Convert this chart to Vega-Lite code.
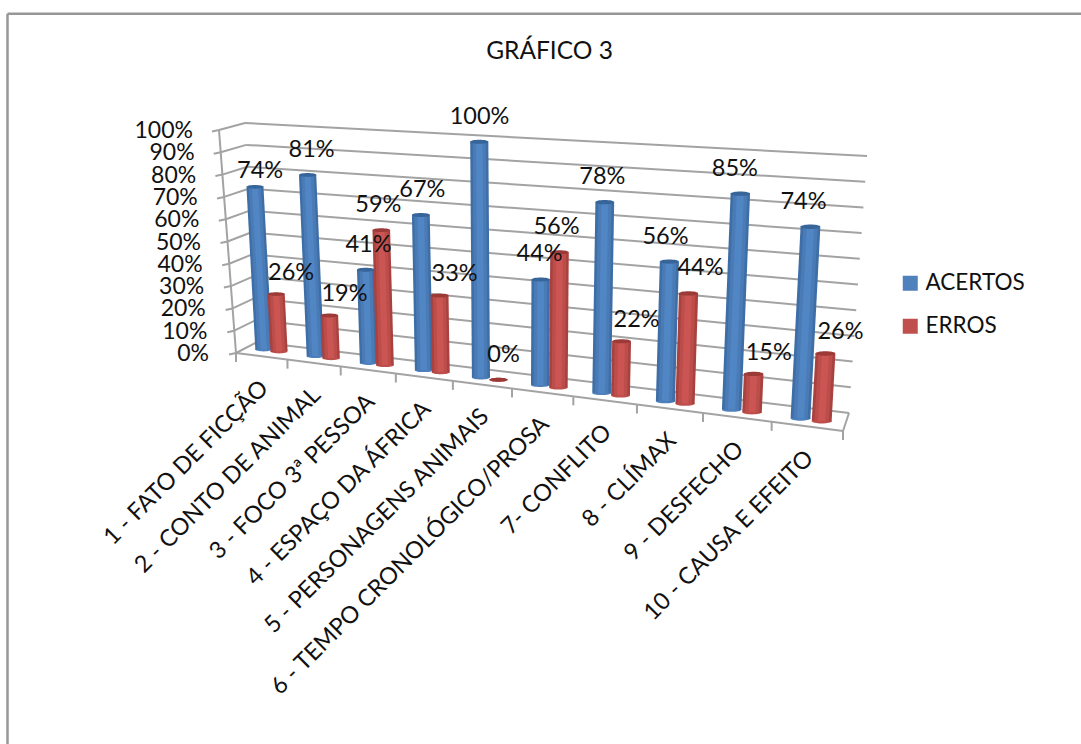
{
  "$schema": "https://vega.github.io/schema/vega-lite/v6.json",
  "width": 1081,
  "height": 744,
  "autosize": "none",
  "padding": 0,
  "background": "white",
  "config": {"view": {"stroke": null}, "font": "Lato"},
  "title": {"text": "GRÁFICO 3", "font": "Lato", "fontSize": 24.5, "fontWeight": "normal", "color": "#111111", "anchor": "middle", "dx": 9, "dy": 68},
  "datasets": {
    "resultados": [
      {"categoria": "1 - FATO  DE FICÇÃO", "serie": "ACERTOS", "valor": 74},
      {"categoria": "2 - CONTO DE ANIMAL", "serie": "ACERTOS", "valor": 81},
      {"categoria": "3 - FOCO 3ª PESSOA", "serie": "ACERTOS", "valor": 41},
      {"categoria": "4 - ESPAÇO DA ÁFRICA", "serie": "ACERTOS", "valor": 67},
      {"categoria": "5 - PERSONAGENS ANIMAIS", "serie": "ACERTOS", "valor": 100},
      {"categoria": "6 - TEMPO CRONOLÓGICO/PROSA", "serie": "ACERTOS", "valor": 44},
      {"categoria": "7- CONFLITO", "serie": "ACERTOS", "valor": 78},
      {"categoria": "8 - CLÍMAX", "serie": "ACERTOS", "valor": 56},
      {"categoria": "9 - DESFECHO", "serie": "ACERTOS", "valor": 85},
      {"categoria": "10 - CAUSA E EFEITO", "serie": "ACERTOS", "valor": 74},
      {"categoria": "1 - FATO  DE FICÇÃO", "serie": "ERROS", "valor": 26},
      {"categoria": "2 - CONTO DE ANIMAL", "serie": "ERROS", "valor": 19},
      {"categoria": "3 - FOCO 3ª PESSOA", "serie": "ERROS", "valor": 59},
      {"categoria": "4 - ESPAÇO DA ÁFRICA", "serie": "ERROS", "valor": 33},
      {"categoria": "5 - PERSONAGENS ANIMAIS", "serie": "ERROS", "valor": 0},
      {"categoria": "6 - TEMPO CRONOLÓGICO/PROSA", "serie": "ERROS", "valor": 56},
      {"categoria": "7- CONFLITO", "serie": "ERROS", "valor": 22},
      {"categoria": "8 - CLÍMAX", "serie": "ERROS", "valor": 44},
      {"categoria": "9 - DESFECHO", "serie": "ERROS", "valor": 15},
      {"categoria": "10 - CAUSA E EFEITO", "serie": "ERROS", "valor": 26}
    ],
    "niveis": [
      {"nivel": 0}, {"nivel": 10}, {"nivel": 20}, {"nivel": 30}, {"nivel": 40}, {"nivel": 50},
      {"nivel": 60}, {"nivel": 70}, {"nivel": 80}, {"nivel": 90}, {"nivel": 100}
    ],
    "divisoes": [
      {"borda": 0}, {"borda": 1}, {"borda": 2}, {"borda": 3}, {"borda": 4}, {"borda": 5},
      {"borda": 6}, {"borda": 7}, {"borda": 8}, {"borda": 9}, {"borda": 10}
    ],
    "moldura": [{"lado": "esquerda"}, {"lado": "topo"}]
  },
  "encoding": {
    "x": {"field": "px", "type": "quantitative", "scale": {"domain": [0, 1081], "nice": false, "zero": false}, "axis": null},
    "y": {"field": "py", "type": "quantitative", "scale": {"domain": [744, 0], "nice": false, "zero": false}, "axis": null}
  },
  "layer": [
    {
      "data": {"name": "moldura"},
      "transform": [
        {"calculate": "7.5", "as": "px"},
        {"calculate": "13.7", "as": "py"},
        {"calculate": "datum.lado == 'topo' ? 1081 : 7.5", "as": "px2"},
        {"calculate": "datum.lado == 'topo' ? 13.7 : 744", "as": "py2"}
      ],
      "mark": {"type": "rule", "color": "#979797", "strokeWidth": 2.5},
      "encoding": {"x2": {"field": "px2"}, "y2": {"field": "py2"}}
    },
    {
      "data": {"name": "niveis"},
      "transform": [
        {"calculate": "257 - 0.12 * datum.nivel", "as": "px"},
        {"calculate": "342 - 2.19 * datum.nivel", "as": "py"},
        {"calculate": "849 + 0.18 * datum.nivel", "as": "px2"},
        {"calculate": "413 - 2.57 * datum.nivel", "as": "py2"}
      ],
      "mark": {"type": "rule", "color": "#A3A3A3", "strokeWidth": 2},
      "encoding": {"x2": {"field": "px2"}, "y2": {"field": "py2"}}
    },
    {
      "data": {"name": "niveis"},
      "transform": [
        {"calculate": "236 - 0.17 * datum.nivel", "as": "px"},
        {"calculate": "353 - 2.23 * datum.nivel", "as": "py"},
        {"calculate": "257 - 0.12 * datum.nivel", "as": "px2"},
        {"calculate": "342 - 2.19 * datum.nivel", "as": "py2"}
      ],
      "mark": {"type": "rule", "color": "#A3A3A3", "strokeWidth": 2},
      "encoding": {"x2": {"field": "px2"}, "y2": {"field": "py2"}}
    },
    {
      "data": {"name": "niveis"},
      "transform": [
        {"calculate": "236 - 0.17 * datum.nivel", "as": "px"},
        {"calculate": "353 - 2.23 * datum.nivel", "as": "py"},
        {"calculate": "datum.px - 7", "as": "px2"},
        {"calculate": "datum.py + 1.5", "as": "py2"}
      ],
      "mark": {"type": "rule", "color": "#A3A3A3", "strokeWidth": 2},
      "encoding": {"x2": {"field": "px2"}, "y2": {"field": "py2"}}
    },
    {
      "data": {"name": "niveis"},
      "transform": [
        {"filter": "datum.nivel == 100"},
        {"calculate": "236 - 0.17 * datum.nivel", "as": "px"},
        {"calculate": "353 - 2.23 * datum.nivel", "as": "py"},
        {"calculate": "236", "as": "px2"},
        {"calculate": "353", "as": "py2"}
      ],
      "mark": {"type": "rule", "color": "#A3A3A3", "strokeWidth": 2},
      "encoding": {"x2": {"field": "px2"}, "y2": {"field": "py2"}}
    },
    {
      "data": {"name": "divisoes"},
      "transform": [
        {"calculate": "236 + 60.7 * 0.834 * datum.borda / (1 - 0.0166 * datum.borda)", "as": "px"},
        {"calculate": "353 + 0.1285 * (datum.px - 236)", "as": "py"},
        {"calculate": "datum.px", "as": "px2"},
        {"calculate": "datum.py + 9", "as": "py2"}
      ],
      "mark": {"type": "rule", "color": "#A3A3A3", "strokeWidth": 2},
      "encoding": {"x2": {"field": "px2"}, "y2": {"field": "py2"}}
    },
    {
      "data": {"name": "divisoes"},
      "transform": [
        {"filter": "datum.borda == 10"},
        {"calculate": "236 + 60.7 * 0.834 * datum.borda / (1 - 0.0166 * datum.borda)", "as": "px2"},
        {"calculate": "353 + 0.1285 * (datum.px2 - 236)", "as": "py2"},
        {"calculate": "236", "as": "px"},
        {"calculate": "353", "as": "py"}
      ],
      "mark": {"type": "rule", "color": "#A3A3A3", "strokeWidth": 2},
      "encoding": {"x2": {"field": "px2"}, "y2": {"field": "py2"}}
    },
    {
      "data": {"name": "divisoes"},
      "transform": [
        {"filter": "datum.borda == 10"},
        {"calculate": "236 + 60.7 * 0.834 * datum.borda / (1 - 0.0166 * datum.borda)", "as": "px2"},
        {"calculate": "353 + 0.1285 * (datum.px2 - 236)", "as": "py2"},
        {"calculate": "849", "as": "px"},
        {"calculate": "413", "as": "py"}
      ],
      "mark": {"type": "rule", "color": "#A3A3A3", "strokeWidth": 2},
      "encoding": {"x2": {"field": "px2"}, "y2": {"field": "py2"}}
    },
    {
      "data": {"name": "niveis"},
      "transform": [
        {"calculate": "209 - 0.16 * datum.nivel", "as": "px"},
        {"calculate": "354 - 2.23 * datum.nivel", "as": "py"},
        {"calculate": "datum.nivel + '%'", "as": "rotulo"}
      ],
      "mark": {"type": "text", "align": "right", "baseline": "middle", "font": "Lato", "fontSize": 23, "color": "#111111"},
      "encoding": {"text": {"field": "rotulo", "type": "nominal"}}
    },
    {
      "data": {"name": "resultados"},
      "transform": [
        {"calculate": "parseInt(datum.categoria)", "as": "ordem"},
        {"calculate": "datum.ordem - 0.53 + (datum.serie == 'ERROS' ? 0.3 : 0)", "as": "c"},
        {"calculate": "236 + 60.7 * 0.834 * datum.c / (1 - 0.0166 * datum.c)", "as": "frente"},
        {"calculate": "516 + (datum.frente - 516) * 0.985", "as": "px"},
        {"calculate": "346 + 0.1285 * (datum.px - 236)", "as": "py"},
        {"calculate": "datum.px + datum.valor * (-0.12 + (datum.px - 264) * 0.000475)", "as": "px2"},
        {"calculate": "datum.py - datum.valor * (2.2 + (datum.px - 264) * 0.00073)", "as": "py2"},
        {"calculate": "17 + (datum.px - 264) * 0.0052", "as": "w"},
        {"calculate": "datum.w * datum.w", "as": "area"},
        {"calculate": "datum.w * 0.72", "as": "w2"},
        {"calculate": "datum.w * 0.36", "as": "w3"}
      ],
      "layer": [
        {
          "mark": {"type": "point", "filled": true, "opacity": 1, "shape": "M-1,0A1,0.22 0 1 1 1,0A1,0.22 0 1 1 -1,0Z"},
          "encoding": {
            "size": {"field": "area", "type": "quantitative", "scale": null},
            "color": {
              "field": "serie",
              "type": "nominal",
              "scale": {"domain": ["ACERTOS", "ERROS"], "range": ["#4F81BD", "#C0504D"]},
              "legend": {
                "orient": "none",
                "legendX": 899,
                "legendY": 272,
                "title": null,
                "symbolType": "square",
                "symbolSize": 225,
                "symbolOpacity": 1,
                "labelFont": "Lato",
                "labelFontSize": 22.5,
                "labelColor": "#111111",
                "labelOffset": 4,
                "rowPadding": 20
              }
            }
          }
        },
        {
          "mark": {"type": "rule"},
          "encoding": {
            "x2": {"field": "px2"},
            "y2": {"field": "py2"},
            "size": {"field": "w", "type": "quantitative", "scale": null},
            "color": {"condition": {"test": "datum.serie == 'ACERTOS'", "value": "#3E6EA6"}, "value": "#A9423F"}
          }
        },
        {
          "mark": {"type": "rule"},
          "encoding": {
            "x2": {"field": "px2"},
            "y2": {"field": "py2"},
            "size": {"field": "w2", "type": "quantitative", "scale": null},
            "color": {"condition": {"test": "datum.serie == 'ACERTOS'", "value": "#4A7BB6"}, "value": "#BB4D4A"}
          }
        },
        {
          "mark": {"type": "rule"},
          "encoding": {
            "x2": {"field": "px2"},
            "y2": {"field": "py2"},
            "size": {"field": "w3", "type": "quantitative", "scale": null},
            "color": {"condition": {"test": "datum.serie == 'ACERTOS'", "value": "#5186C5"}, "value": "#CB5552"}
          }
        },
        {
          "transform": [
            {"calculate": "datum.px2", "as": "px"},
            {"calculate": "datum.py2", "as": "py"}
          ],
          "mark": {"type": "point", "filled": true, "opacity": 1, "shape": "M-1,0A1,0.22 0 1 1 1,0A1,0.22 0 1 1 -1,0Z"},
          "encoding": {
            "size": {"field": "area", "type": "quantitative", "scale": null},
            "color": {"condition": {"test": "datum.serie == 'ACERTOS'", "value": "#376499"}, "value": "#9C3A37"}
          }
        },
        {
          "transform": [
            {"calculate": "datum.valor + '%'", "as": "rotulo"},
            {"calculate": "datum.px2 + (datum.serie == 'ERROS' ? (datum.valor == 0 ? 5 : datum.valor < 44 ? 15 : datum.valor == 44 ? 12 : -3) : 5 - (datum.px2 - 264) * 0.022)", "as": "px"},
            {"calculate": "datum.py2 - (datum.serie == 'ACERTOS' && datum.ordem == 1 ? 16 : datum.serie == 'ERROS' && datum.valor < 44 && datum.valor > 0 ? 21 : 25)", "as": "py"}
          ],
          "mark": {"type": "text", "align": "center", "baseline": "middle", "font": "Lato", "fontSize": 23.5, "color": "#111111"},
          "encoding": {"text": {"field": "rotulo", "type": "nominal"}}
        }
      ]
    },
    {
      "data": {"name": "resultados"},
      "transform": [
        {"filter": "datum.serie == 'ACERTOS'"},
        {"calculate": "parseInt(datum.categoria) - 0.5", "as": "c"},
        {"calculate": "239 + 60.7 * 0.834 * datum.c / (1 - 0.0166 * datum.c)", "as": "px"},
        {"calculate": "351 + 0.1285 * (datum.px - 236) + 30", "as": "py"}
      ],
      "mark": {"type": "text", "align": "right", "baseline": "middle", "angle": 315, "font": "Lato", "fontSize": 23.5, "color": "#111111"},
      "encoding": {"text": {"field": "categoria", "type": "nominal"}}
    }
  ]
}
